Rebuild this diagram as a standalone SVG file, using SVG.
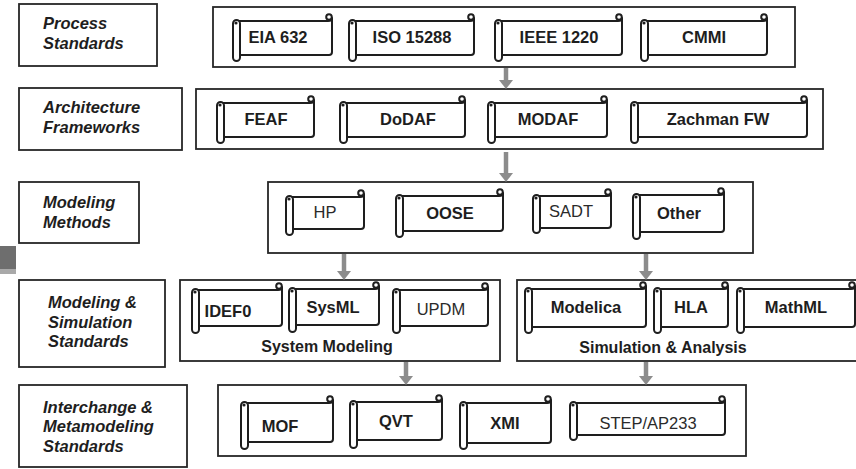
<svg xmlns="http://www.w3.org/2000/svg" width="856" height="469" viewBox="0 0 856 469">
  <style>
    .frame { fill: #fff; stroke: #262626; stroke-width: 1.8; }
    .body { fill: #fff; stroke: #1e1e1e; stroke-width: 2; stroke-linejoin: round; }
    .pill { fill: #fff; stroke: #1e1e1e; stroke-width: 2; }
    .curl { fill: #fff; stroke: #1e1e1e; stroke-width: 2; }
    .dot { fill: #1e1e1e; }
    .lbl { font-family: "Liberation Sans", Arial, sans-serif; font-size: 16.5px; font-weight: bold; font-style: italic; fill: #1e1e1e; }
    .b { font-family: "Liberation Sans", Arial, sans-serif; font-size: 16.5px; font-weight: bold; fill: #1e1e1e; text-anchor: middle; }
    .r { font-family: "Liberation Sans", Arial, sans-serif; font-size: 16.5px; fill: #2a2a2a; text-anchor: middle; }
    .cap { font-family: "Liberation Sans", Arial, sans-serif; font-size: 16px; font-weight: bold; fill: #1e1e1e; text-anchor: middle; }
    .arrow { stroke: #8c8c8c; stroke-width: 4.5; fill: none; }
  </style>
  <defs>
    <!-- arrowhead drawn along +x so orient="auto" turns it along the line -->
    <marker id="head" markerUnits="userSpaceOnUse" markerWidth="10" markerHeight="14" refX="0" refY="7" orient="auto" viewBox="0 0 10 14">
      <path d="M0,0 L9,7 L0,14 Z" fill="#8c8c8c"/>
    </marker>
  </defs>

  <!-- edge tab at the left -->
  <rect x="0" y="246" width="16" height="23" fill="#6e6e6e"/>
  <rect x="0" y="269" width="16" height="5" fill="#a9a9a9"/>

  <!-- row labels -->
  <g id="label-process">
    <rect class="frame" x="19" y="4" width="138" height="62"/>
    <text class="lbl" x="43" y="29">Process</text>
    <text class="lbl" x="43" y="49">Standards</text>
  </g>
  <g id="label-architecture">
    <rect class="frame" x="19" y="88" width="163" height="62"/>
    <text class="lbl" x="43" y="113">Architecture</text>
    <text class="lbl" x="43" y="133">Frameworks</text>
  </g>
  <g id="label-methods">
    <rect class="frame" x="19" y="182" width="120" height="61"/>
    <text class="lbl" x="43" y="208">Modeling</text>
    <text class="lbl" x="43" y="228">Methods</text>
  </g>
  <g id="label-msstandards">
    <rect class="frame" x="19" y="280" width="146" height="87"/>
    <text class="lbl" x="48" y="308">Modeling &amp;</text>
    <text class="lbl" x="48" y="328">Simulation</text>
    <text class="lbl" x="48" y="347">Standards</text>
  </g>
  <g id="label-interchange">
    <rect class="frame" x="19" y="385" width="168" height="82"/>
    <text class="lbl" x="43" y="413">Interchange &amp;</text>
    <text class="lbl" x="43" y="432">Metamodeling</text>
    <text class="lbl" x="43" y="452">Standards</text>
  </g>

  <!-- container frames -->
  <g id="box-process"><rect class="frame" x="213" y="7" width="582" height="60"/></g>
  <g id="box-architecture"><rect class="frame" x="196" y="89" width="627" height="60"/></g>
  <g id="box-methods"><rect class="frame" x="268" y="182" width="485" height="71"/></g>
  <g id="box-system">
    <rect class="frame" x="180" y="280" width="320" height="81"/>
    <text class="cap" x="327" y="352">System Modeling</text>
  </g>
  <g id="box-simulation">
    <rect class="frame" x="517" y="280" width="342" height="81"/>
    <text class="cap" x="663" y="353">Simulation &amp; Analysis</text>
  </g>
  <g id="box-interchange"><rect class="frame" x="218" y="385" width="528" height="71"/></g>

  <!-- scrolls: pill = rolled left edge, curl = rolled top-right corner -->
  <!-- row 1 -->
  <g id="s-eia632" transform="translate(233,21)">
    <path class="body" d="M5,0 H95 Q99,0 99,-3 V31 Q99,34 96,34 H5 Z"/>
    <circle class="curl" cx="96" cy="-4" r="2.8"/>
    <rect class="pill" x="0" y="-1" width="7" height="41" rx="3.5"/>
    <circle class="dot" cx="3" cy="2" r="1.6"/>
    <text class="b" x="45" y="22">EIA 632</text>
  </g>
  <g id="s-iso15288" transform="translate(349,21)">
    <path class="body" d="M5,0 H121 Q125,0 125,-3 V31 Q125,34 122,34 H5 Z"/>
    <circle class="curl" cx="122" cy="-4" r="2.8"/>
    <rect class="pill" x="0" y="-1" width="7" height="41" rx="3.5"/>
    <circle class="dot" cx="3" cy="2" r="1.6"/>
    <text class="b" x="63" y="22">ISO 15288</text>
  </g>
  <g id="s-ieee1220" transform="translate(495,21)">
    <path class="body" d="M5,0 H123 Q127,0 127,-3 V31 Q127,34 124,34 H5 Z"/>
    <circle class="curl" cx="124" cy="-4" r="2.8"/>
    <rect class="pill" x="0" y="-1" width="7" height="41" rx="3.5"/>
    <circle class="dot" cx="3" cy="2" r="1.6"/>
    <text class="b" x="64" y="22">IEEE 1220</text>
  </g>
  <g id="s-cmmi" transform="translate(641,21)">
    <path class="body" d="M5,0 H122 Q126,0 126,-3 V31 Q126,34 123,34 H5 Z"/>
    <circle class="curl" cx="123" cy="-4" r="2.8"/>
    <rect class="pill" x="0" y="-1" width="7" height="41" rx="3.5"/>
    <circle class="dot" cx="3" cy="2" r="1.6"/>
    <text class="b" x="63" y="22">CMMI</text>
  </g>

  <!-- row 2 -->
  <g id="s-feaf" transform="translate(217,103)">
    <path class="body" d="M5,0 H93 Q97,0 97,-3 V31 Q97,34 94,34 H5 Z"/>
    <circle class="curl" cx="94" cy="-4" r="2.8"/>
    <rect class="pill" x="0" y="-1" width="7" height="41" rx="3.5"/>
    <circle class="dot" cx="3" cy="2" r="1.6"/>
    <text class="b" x="49" y="22">FEAF</text>
  </g>
  <g id="s-dodaf" transform="translate(340,103)">
    <path class="body" d="M5,0 H121 Q125,0 125,-3 V31 Q125,34 122,34 H5 Z"/>
    <circle class="curl" cx="122" cy="-4" r="2.8"/>
    <rect class="pill" x="0" y="-1" width="7" height="41" rx="3.5"/>
    <circle class="dot" cx="3" cy="2" r="1.6"/>
    <text class="b" x="68" y="22">DoDAF</text>
  </g>
  <g id="s-modaf" transform="translate(488,103)">
    <path class="body" d="M5,0 H115 Q119,0 119,-3 V31 Q119,34 116,34 H5 Z"/>
    <circle class="curl" cx="116" cy="-4" r="2.8"/>
    <rect class="pill" x="0" y="-1" width="7" height="41" rx="3.5"/>
    <circle class="dot" cx="3" cy="2" r="1.6"/>
    <text class="b" x="60" y="22">MODAF</text>
  </g>
  <g id="s-zachman" transform="translate(631,103)">
    <path class="body" d="M5,0 H172 Q176,0 176,-3 V31 Q176,34 173,34 H5 Z"/>
    <circle class="curl" cx="173" cy="-4" r="2.8"/>
    <rect class="pill" x="0" y="-1" width="7" height="41" rx="3.5"/>
    <circle class="dot" cx="3" cy="2" r="1.6"/>
    <text class="b" x="87" y="22">Zachman FW</text>
  </g>

  <!-- row 3 -->
  <g id="s-hp" transform="translate(286,197)">
    <path class="body" d="M5,0 H74 Q78,0 78,-3 V29 Q78,32 75,32 H5 Z"/>
    <circle class="curl" cx="75" cy="-4" r="2.8"/>
    <rect class="pill" x="0" y="-1" width="7" height="39" rx="3.5"/>
    <circle class="dot" cx="3" cy="2" r="1.6"/>
    <text class="r" x="39" y="21">HP</text>
  </g>
  <g id="s-oose" transform="translate(396,196)">
    <path class="body" d="M5,0 H103 Q107,0 107,-3 V32 Q107,35 104,35 H5 Z"/>
    <circle class="curl" cx="104" cy="-4" r="2.8"/>
    <rect class="pill" x="0" y="-1" width="7" height="42" rx="3.5"/>
    <circle class="dot" cx="3" cy="2" r="1.6"/>
    <text class="b" x="54" y="23">OOSE</text>
  </g>
  <g id="s-sadt" transform="translate(533,196)">
    <path class="body" d="M5,0 H74 Q78,0 78,-3 V29 Q78,32 75,32 H5 Z"/>
    <circle class="curl" cx="75" cy="-4" r="2.8"/>
    <rect class="pill" x="0" y="-1" width="7" height="38" rx="3.5"/>
    <circle class="dot" cx="3" cy="2" r="1.6"/>
    <text class="r" x="38" y="21">SADT</text>
  </g>
  <g id="s-other" transform="translate(633,195)">
    <path class="body" d="M5,0 H87 Q91,0 91,-3 V34 Q91,37 88,37 H5 Z"/>
    <circle class="curl" cx="88" cy="-4" r="2.8"/>
    <rect class="pill" x="0" y="-1" width="7" height="45" rx="3.5"/>
    <circle class="dot" cx="3" cy="2" r="1.6"/>
    <text class="b" x="46" y="24">Other</text>
  </g>

  <!-- row 4 -->
  <g id="s-idef0" transform="translate(192,290)">
    <path class="body" d="M5,0 H86 Q90,0 90,-3 V33 Q90,36 87,36 H5 Z"/>
    <circle class="curl" cx="87" cy="-4" r="2.8"/>
    <rect class="pill" x="0" y="-1" width="7" height="44" rx="3.5"/>
    <circle class="dot" cx="3" cy="2" r="1.6"/>
    <text class="b" x="36" y="27">IDEF0</text>
  </g>
  <g id="s-sysml" transform="translate(289,289)">
    <path class="body" d="M5,0 H86 Q90,0 90,-3 V33 Q90,36 87,36 H5 Z"/>
    <circle class="curl" cx="87" cy="-4" r="2.8"/>
    <rect class="pill" x="0" y="-1" width="7" height="44" rx="3.5"/>
    <circle class="dot" cx="3" cy="2" r="1.6"/>
    <text class="b" x="44" y="24">SysML</text>
  </g>
  <g id="s-updm" transform="translate(393,290)">
    <path class="body" d="M5,0 H91 Q95,0 95,-3 V33 Q95,36 92,36 H5 Z"/>
    <circle class="curl" cx="92" cy="-4" r="2.8"/>
    <rect class="pill" x="0" y="-1" width="7" height="44" rx="3.5"/>
    <circle class="dot" cx="3" cy="2" r="1.6"/>
    <text class="r" x="48" y="25">UPDM</text>
  </g>
  <g id="s-modelica" transform="translate(525,289)">
    <path class="body" d="M5,0 H117 Q121,0 121,-3 V35 Q121,38 118,38 H5 Z"/>
    <circle class="curl" cx="118" cy="-4" r="2.8"/>
    <rect class="pill" x="0" y="-1" width="7" height="45" rx="3.5"/>
    <circle class="dot" cx="3" cy="2" r="1.6"/>
    <text class="b" x="61" y="24">Modelica</text>
  </g>
  <g id="s-hla" transform="translate(654,289)">
    <path class="body" d="M5,0 H70 Q74,0 74,-3 V35 Q74,38 71,38 H5 Z"/>
    <circle class="curl" cx="71" cy="-4" r="2.8"/>
    <rect class="pill" x="0" y="-1" width="7" height="45" rx="3.5"/>
    <circle class="dot" cx="3" cy="2" r="1.6"/>
    <text class="b" x="37" y="24">HLA</text>
  </g>
  <g id="s-mathml" transform="translate(737,289)">
    <path class="body" d="M5,0 H114 Q118,0 118,-3 V35 Q118,38 115,38 H5 Z"/>
    <circle class="curl" cx="115" cy="-4" r="2.8"/>
    <rect class="pill" x="0" y="-1" width="7" height="45" rx="3.5"/>
    <circle class="dot" cx="3" cy="2" r="1.6"/>
    <text class="b" x="59" y="24">MathML</text>
  </g>

  <!-- row 5 -->
  <g id="s-mof" transform="translate(241,403)">
    <path class="body" d="M5,0 H88 Q92,0 92,-3 V36 Q92,39 89,39 H5 Z"/>
    <circle class="curl" cx="89" cy="-4" r="2.8"/>
    <rect class="pill" x="0" y="-1" width="7" height="47" rx="3.5"/>
    <circle class="dot" cx="3" cy="2" r="1.6"/>
    <text class="b" x="39" y="29">MOF</text>
  </g>
  <g id="s-qvt" transform="translate(350,402)">
    <path class="body" d="M5,0 H88 Q92,0 92,-3 V35 Q92,38 89,38 H5 Z"/>
    <circle class="curl" cx="89" cy="-4" r="2.8"/>
    <rect class="pill" x="0" y="-1" width="7" height="47" rx="3.5"/>
    <circle class="dot" cx="3" cy="2" r="1.6"/>
    <text class="b" x="46" y="25">QVT</text>
  </g>
  <g id="s-xmi" transform="translate(460,403)">
    <path class="body" d="M5,0 H87 Q91,0 91,-3 V37 Q91,40 88,40 H5 Z"/>
    <circle class="curl" cx="88" cy="-4" r="2.8"/>
    <rect class="pill" x="0" y="-1" width="7" height="47" rx="3.5"/>
    <circle class="dot" cx="3" cy="2" r="1.6"/>
    <text class="b" x="45" y="26">XMI</text>
  </g>
  <g id="s-step" transform="translate(570,403)">
    <path class="body" d="M5,0 H151 Q155,0 155,-3 V29 Q155,32 152,32 H5 Z"/>
    <circle class="curl" cx="152" cy="-4" r="2.8"/>
    <rect class="pill" x="0" y="-1" width="7" height="38" rx="3.5"/>
    <circle class="dot" cx="3" cy="2" r="1.6"/>
    <text class="r" x="78" y="26">STEP/AP233</text>
  </g>

  <!-- connectors -->
  <g id="connectors">
    <path class="arrow" d="M506,68 V80" marker-end="url(#head)"/>
    <path class="arrow" d="M506,152 V173" marker-end="url(#head)"/>
    <path class="arrow" d="M344,254 V271" marker-end="url(#head)"/>
    <path class="arrow" d="M646,254 V271" marker-end="url(#head)"/>
    <path class="arrow" d="M406,362 V376" marker-end="url(#head)"/>
    <path class="arrow" d="M646,362 V376" marker-end="url(#head)"/>
  </g>
</svg>
